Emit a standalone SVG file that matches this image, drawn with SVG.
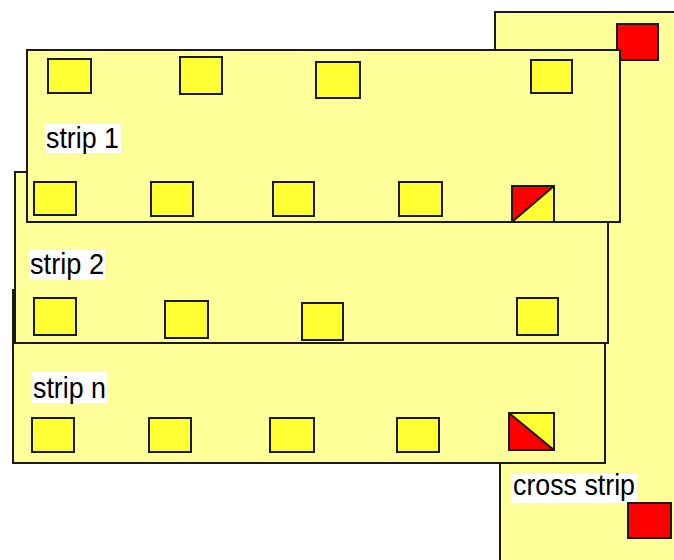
<svg xmlns="http://www.w3.org/2000/svg" width="674" height="560" viewBox="0 0 674 560">
<style>
.strip{fill:#FFFF99;stroke:#1a1a1a;stroke-width:2}
.sq{fill:#FFFF33;stroke:#1a1a1a;stroke-width:2}
.red{fill:#FF0000;stroke:#1a1a1a;stroke-width:2}
.rf{fill:#FF0000}
.yf{fill:#FFFF33}
.edge{fill:none;stroke:#1a1a1a;stroke-width:2}
.lblbg{fill:#FFFFFF}
.lbl{font-family:"Liberation Sans",Arial,sans-serif;font-size:29px;fill:#000}
</style>
<rect x="0" y="0" width="674" height="560" fill="#FFFFFF"/>
<g id="cross-strip">
<polygon class="strip" points="495,12 690,12 690,580 500,580 500,463 495,463"/>
<rect class="lblbg" x="511" y="473" width="126" height="30"/>
<text class="lbl" x="513" y="495" textLength="122" lengthAdjust="spacingAndGlyphs">cross strip</text>
<rect class="red" x="617" y="24" width="41" height="36"/>
<rect class="red" x="628" y="503" width="43" height="35"/>
</g>
<g id="strip-n">
<rect class="strip" x="13" y="290" width="592" height="173"/>
<rect class="lblbg" x="32" y="372" width="75" height="31"/>
<text class="lbl" x="33" y="398" textLength="73" lengthAdjust="spacingAndGlyphs">strip n</text>
<rect class="sq" x="32" y="418" width="42" height="34"/>
<rect class="sq" x="149" y="418" width="42" height="34"/>
<rect class="sq" x="270" y="418" width="44" height="34"/>
<rect class="sq" x="397" y="418" width="42" height="34"/>
<polygon class="yf" points="509,413 554,413 554,450"/>
<polygon class="rf" points="509,413 554,450 509,450"/>
<line class="edge" x1="509" y1="413" x2="554" y2="450"/>
<rect class="edge" x="509" y="413" width="45" height="37"/>
</g>
<g id="strip-2">
<rect class="strip" x="15" y="172" width="593" height="171"/>
<rect class="lblbg" x="29" y="250" width="76" height="30"/>
<text class="lbl" x="30" y="274" textLength="74" lengthAdjust="spacingAndGlyphs">strip 2</text>
<rect class="sq" x="34" y="298" width="42" height="37"/>
<rect class="sq" x="165" y="301" width="43" height="37"/>
<rect class="sq" x="302" y="303" width="41" height="37"/>
<rect class="sq" x="517" y="298" width="41" height="37"/>
</g>
<g id="strip-1">
<rect class="strip" x="27" y="50" width="593" height="172"/>
<rect class="lblbg" x="45" y="124" width="76" height="29"/>
<text class="lbl" x="46" y="148" textLength="73" lengthAdjust="spacingAndGlyphs">strip 1</text>
<rect class="sq" x="48" y="59" width="43" height="34"/>
<rect class="sq" x="180" y="57" width="42" height="37"/>
<rect class="sq" x="316" y="62" width="44" height="36"/>
<rect class="sq" x="531" y="60" width="41" height="33"/>
<rect class="sq" x="34" y="182" width="42" height="33"/>
<rect class="sq" x="151" y="182" width="42" height="34"/>
<rect class="sq" x="273" y="182" width="41" height="34"/>
<rect class="sq" x="399" y="182" width="43" height="34"/>
<polygon class="rf" points="512,186 554,186 512,222"/>
<polygon class="yf" points="554,186 554,222 512,222"/>
<line class="edge" x1="512" y1="222" x2="554" y2="186"/>
<rect class="edge" x="512" y="186" width="42" height="36"/>
</g>
<g id="connectors"></g>
</svg>
